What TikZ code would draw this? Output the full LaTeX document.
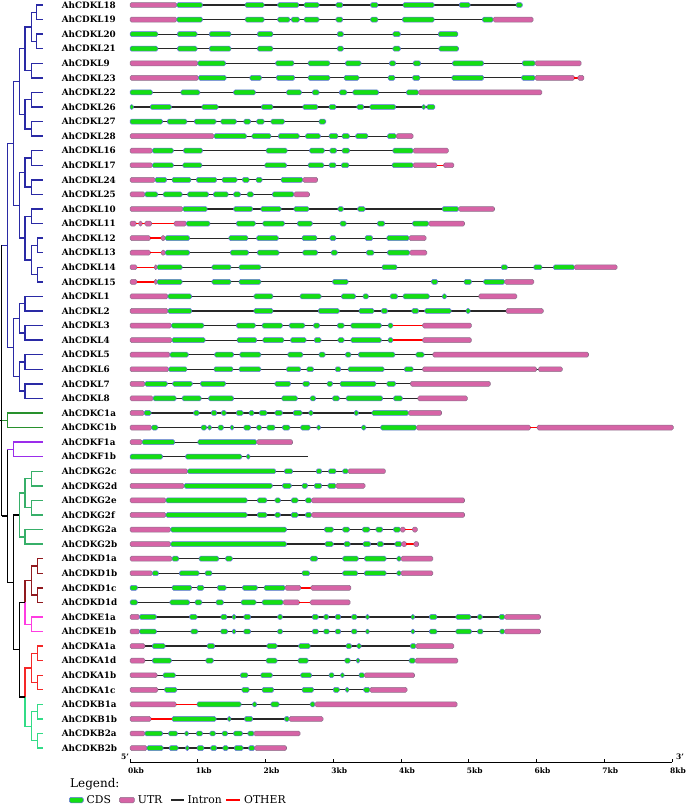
\documentclass[tikz,border=0pt]{standalone}
\usepackage{fontspec}
\setmainfont{DejaVu Serif}
\usetikzlibrary{positioning}

\definecolor{cdsfill}{RGB}{20,222,20}
\definecolor{cdsline}{RGB}{110,110,235}
\definecolor{utrfill}{RGB}{214,100,166}
\definecolor{utrline}{RGB}{140,115,140}
\definecolor{introncol}{RGB}{40,40,40}
\definecolor{cladeL}{RGB}{42,42,165}
\definecolor{cladeC}{RGB}{40,145,45}
\definecolor{cladeF}{RGB}{155,45,235}
\definecolor{cladeG}{RGB}{55,175,105}
\definecolor{cladeD}{RGB}{145,25,30}
\definecolor{cladeE}{RGB}{255,60,225}
\definecolor{cladeA}{RGB}{245,40,40}
\definecolor{cladeB}{RGB}{50,220,135}

\tikzset{
  branch/.style={line width=1.4pt},
  gname/.style={anchor=west, inner sep=0pt, font=\fontsize{8.8}{9}\selectfont\bfseries},
  intron/.style={draw=introncol, line width=1.2pt},
  cds/.style={draw=cdsline, fill=cdsfill, line width=0.5pt, rounded corners=1.5pt},
  utr/.style={draw=utrline, fill=utrfill, line width=0.5pt, rounded corners=1.5pt},
  oth/.style={fill=red, yscale=0.3},
  kblabel/.style={anchor=west, inner sep=0pt, font=\fontsize{7.5}{8}\selectfont\bfseries},
  key/.style={inner sep=0pt, font=\fontsize{10.8}{12}\selectfont},
}

% one gene model: row, length (kb), parts type/from/to
\newcommand{\gene}[3]{%
  \begin{scope}[shift={(0,#1)}]
    \draw[intron] (0,0) -- (#2,0);
    \foreach \kind/\from/\to in {#3} {\path[\kind] (\from,-0.17) rectangle (\to,0.17);}
  \end{scope}}

\begin{document}
\begin{tikzpicture}[x=1pt,y=-1pt]
\useasboundingbox (0,0) rectangle (685,805);

\begin{scope}[yshift=-5pt,y=-14.57pt]
  % leaves and names
  \foreach \n/\r in {L18/0,L19/1,L20/2,L21/3,L9/4,L23/5,L22/6,L26/7,L27/8,L28/9,
      L16/10,L17/11,L24/12,L25/13,L10/14,L11/15,L12/16,L13/17,L14/18,L15/19,
      L1/20,L2/21,L3/22,L4/23,L5/24,L6/25,L7/26,L8/27,C1a/28,C1b/29,F1a/30,F1b/31,
      G2c/32,G2d/33,G2e/34,G2f/35,G2a/36,G2b/37,D1a/38,D1b/39,D1c/40,D1d/41,
      E1a/42,E1b/43,A1a/44,A1d/45,A1b/46,A1c/47,B1a/48,B1b/49,B2a/50,B2b/51} {
    \coordinate (t\n) at (43.3,\r);
    \node[gname] (l\n) at (61.7,\r) {AhCDK\n};
  }

  % inner nodes of the tree
  \foreach \n/\x/\y in {a1/36.7/0.5,a2/36.7/2.5,a3/31.7/1.5,a4/31.7/4.5,a5/25/3,
      a6/31.7/6.5,a7/31.7/8.5,a8/25/7.5,a9/19.3/5.25,b1/31.7/10.5,b2/31.7/12.5,
      b3/25/11.5,b4/31.7/14.5,b5/37.3/16.5,b6/37.3/18.5,b7/31.7/17.5,b8/25/16,
      b9/19.3/13.75,c1/13.3/9.5,d1/25/20.5,d2/25/22.5,d3/19.3/21.5,d4/25/24.5,
      d5/25/26.5,d6/19.3/25.5,d7/13.3/23.5,kL/7.3/16.5,kC/7.3/28.5,kF/13.3/30.5,
      g1/31.7/32.5,g2/31.7/34.5,g3/25/33.5,kG/25/36.5,g4/19.3/35,
      e1/37.3/38.5,e2/37.3/40.5,kD/31.7/39.5,kE/31.7/42.5,m1/25/41,
      f1/37.3/44.5,f2/37.3/46.5,kA/31.7/45.5,h1/37.3/48.5,h2/37.3/50.5,kB/31.7/49.5,
      m2/25/47.5,m3/19.3/44.25,m4/13.3/39.625,m5/7.3/35.0625}
    \coordinate (\n) at (\x,\y);
  \coordinate (root) at (1.7,28.5);
  \coordinate (stub) at (0,28.5);

  % branches
  \foreach \p/\c in {a1/tL18,a1/tL19,a2/tL20,a2/tL21,a3/a1,a3/a2,a4/tL9,a4/tL23,
      a5/a3,a5/a4,a6/tL22,a6/tL26,a7/tL27,a7/tL28,a8/a6,a8/a7,a9/a5,a9/a8,
      b1/tL16,b1/tL17,b2/tL24,b2/tL25,b3/b1,b3/b2,b4/tL10,b4/tL11,b5/tL12,b5/tL13,
      b6/tL14,b6/tL15,b7/b5,b7/b6,b8/b4,b8/b7,b9/b3,b9/b8,c1/a9,c1/b9,
      d1/tL1,d1/tL2,d2/tL3,d2/tL4,d3/d1,d3/d2,d4/tL5,d4/tL6,d5/tL7,d5/tL8,
      d6/d4,d6/d5,d7/d3,d7/d6,kL/c1,kL/d7}
    \draw[branch,cladeL] (\p) |- (\c);
  \foreach \p/\c in {kC/tC1a,kC/tC1b} \draw[branch,cladeC] (\p) |- (\c);
  \foreach \p/\c in {kF/tF1a,kF/tF1b} \draw[branch,cladeF] (\p) |- (\c);
  \foreach \p/\c in {g1/tG2c,g1/tG2d,g2/tG2e,g2/tG2f,g3/g1,g3/g2,kG/tG2a,kG/tG2b,g4/g3,g4/kG}
    \draw[branch,cladeG] (\p) |- (\c);
  \foreach \p/\c in {e1/tD1a,e1/tD1b,e2/tD1c,e2/tD1d,kD/e1,kD/e2,m1/kD}
    \draw[branch,cladeD] (\p) |- (\c);
  \foreach \p/\c in {kE/tE1a,kE/tE1b,m1/kE} \draw[branch,cladeE] (\p) |- (\c);
  \foreach \p/\c in {f1/tA1a,f1/tA1d,f2/tA1b,f2/tA1c,kA/f1,kA/f2,m2/kA}
    \draw[branch,cladeA] (\p) |- (\c);
  \foreach \p/\c in {h1/tB1a,h1/tB1b,h2/tB2a,h2/tB2b,kB/h1,kB/h2,m2/kB}
    \draw[branch,cladeB] (\p) |- (\c);
  \foreach \p/\c in {m3/m1,m3/m2,m4/g4,m4/m3,m5/m4,m5/kF}
    \draw[branch] (\p) |- (\c);
  \draw[branch,cladeF] (m5 |- kF) -- (kF);
  \draw[branch] (root |- kL) -- (root |- m5);
  \draw[branch] (stub) -- (root);
  \draw[branch,cladeL] (root |- kL) -- (kL);
  \draw[branch,cladeC] (root) -- (kC);
  \draw[branch] (root |- m5) -- (m5);

  % gene models, x in kb
  \begin{scope}[xshift=130pt,x=67.75pt]
    \gene{0}{5.79}{utr/0/0.69,cds/0.69/1.07,cds/1.70/1.98,cds/2.18/2.49,cds/2.57/2.79,cds/3.04/3.14,cds/3.55/3.66,cds/4.03/4.49,cds/4.86/5.02,cds/5.70/5.79}
    \gene{1}{5.95}{utr/0/0.69,cds/0.69/1.07,cds/1.70/1.98,cds/2.18/2.36,cds/2.38/2.50,cds/2.57/2.79,cds/3.04/3.14,cds/3.55/3.66,cds/4.02/4.49,cds/5.20/5.36,utr/5.36/5.95}
    \gene{2}{4.84}{cds/0/0.41,cds/0.70/0.99,cds/1.17/1.49,cds/1.88/2.11,cds/3.06/3.15,cds/3.88/3.99,cds/4.55/4.84}
    \gene{3}{4.85}{cds/0/0.41,cds/0.70/0.99,cds/1.17/1.49,cds/1.88/2.11,cds/3.06/3.15,cds/3.88/3.99,cds/4.56/4.85}
    \gene{4}{6.66}{utr/0/1.00,cds/1.00/1.41,cds/2.15/2.42,cds/2.63/2.95,cds/3.18/3.41,cds/3.83/3.92,cds/4.18/4.29,cds/4.76/5.22,cds/5.79/5.98,utr/5.98/6.66}
    \gene{5}{6.70}{utr/0/1.01,cds/1.01/1.42,cds/1.77/1.94,cds/2.16/2.43,cds/2.63/2.95,cds/3.16/3.38,cds/3.81/3.91,cds/4.17/4.28,cds/4.75/5.22,cds/5.78/5.98,utr/5.98/6.56,oth/6.56/6.61,utr/6.61/6.70}
    \gene{6}{6.08}{cds/0/0.33,cds/0.75/1.03,cds/1.53/1.85,cds/2.31/2.53,cds/2.69/2.79,cds/3.09/3.20,cds/3.29/3.67,cds/4.08/4.26,utr/4.26/6.08}
    \gene{7}{4.50}{cds/0/0.05,cds/0.30/0.61,cds/1.06/1.30,cds/1.94/2.11,cds/2.55/2.77,cds/2.94/3.04,cds/3.35/3.45,cds/3.54/3.92,cds/4.31/4.36,cds/4.38/4.50}
    \gene{8}{2.89}{cds/0/0.48,cds/0.55/0.84,cds/0.95/1.27,cds/1.34/1.57,cds/1.68/1.78,cds/1.87/1.98,cds/2.08/2.28,cds/2.79/2.89}
    \gene{9}{4.18}{utr/0/1.24,cds/1.24/1.72,cds/1.80/2.08,cds/2.19/2.50,cds/2.59/2.81,cds/2.94/3.07,cds/3.13/3.24,cds/3.33/3.51,cds/3.80/3.93,utr/3.93/4.18}
    \gene{10}{4.70}{utr/0/0.33,cds/0.33/0.64,cds/0.79/1.07,cds/2.01/2.32,cds/2.65/2.87,cds/2.95/3.05,cds/3.13/3.24,cds/3.88/4.18,utr/4.18/4.70}
    \gene{11}{4.78}{utr/0/0.33,cds/0.33/0.64,cds/0.78/1.06,cds/1.99/2.31,cds/2.63/2.86,cds/2.94/3.04,cds/3.12/3.23,cds/3.87/4.18,utr/4.18/4.53,oth/4.53/4.63,utr/4.63/4.78}
    \gene{12}{2.77}{utr/0/0.37,cds/0.37/0.54,cds/0.62/0.90,cds/0.98/1.28,cds/1.36/1.58,cds/1.66/1.76,cds/1.86/1.95,cds/2.23/2.55,utr/2.55/2.77}
    \gene{13}{2.65}{utr/0/0.22,cds/0.22/0.41,cds/0.49/0.77,cds/0.85/1.16,cds/1.23/1.45,cds/1.53/1.63,cds/1.73/1.82,cds/2.10/2.42,utr/2.42/2.65}
    \gene{14}{5.38}{utr/0/0.78,cds/0.78/1.14,cds/1.53/1.81,cds/1.93/2.23,cds/2.42/2.64,cds/3.07/3.15,cds/3.36/3.47,cds/4.61/4.85,utr/4.85/5.38}
    \gene{15}{4.94}{utr/0/0.09,oth/0.09/0.13,utr/0.13/0.18,oth/0.18/0.22,utr/0.22/0.32,oth/0.32/0.65,utr/0.65/0.83,cds/0.83/1.18,cds/1.57/1.85,cds/1.96/2.28,cds/2.47/2.69,cds/3.10/3.19,cds/3.65/3.76,cds/4.17/4.41,utr/4.41/4.94}
    \gene{16}{4.37}{utr/0/0.30,oth/0.30/0.46,utr/0.46/0.52,cds/0.52/0.88,cds/1.46/1.74,cds/1.87/2.19,cds/2.54/2.76,cds/2.95/3.04,cds/3.47/3.58,cds/3.79/4.12,utr/4.12/4.37}
    \gene{17}{4.38}{utr/0/0.30,oth/0.30/0.46,utr/0.46/0.52,cds/0.52/0.88,cds/1.48/1.75,cds/1.88/2.20,cds/2.55/2.77,cds/2.97/3.06,cds/3.49/3.60,cds/3.80/4.13,utr/4.13/4.38}
    \gene{18}{7.19}{utr/0/0.10,oth/0.10/0.36,utr/0.36/0.40,cds/0.40/0.77,cds/1.21/1.49,cds/1.61/1.93,cds/3.72/3.94,cds/5.48/5.57,cds/5.96/6.08,cds/6.25/6.56,utr/6.56/7.19}
    \gene{19}{5.96}{utr/0/0.10,oth/0.10/0.36,utr/0.36/0.40,cds/0.40/0.77,cds/1.21/1.49,cds/1.61/1.93,cds/2.99/3.22,cds/4.45/4.54,cds/4.93/5.04,cds/5.22/5.53,utr/5.53/5.96}
    \gene{20}{5.71}{utr/0/0.56,cds/0.56/0.91,cds/1.83/2.11,cds/2.51/2.82,cds/3.12/3.33,cds/3.44/3.52,cds/3.84/3.95,cds/4.03/4.42,cds/4.61/4.67,utr/5.15/5.71}
    \gene{21}{6.10}{utr/0/0.56,cds/0.56/0.91,cds/1.83/2.11,cds/2.78/3.09,cds/3.38/3.60,cds/3.71/3.80,cds/4.16/4.26,cds/4.35/4.74,cds/4.96/5.02,utr/5.55/6.10}
    \gene{22}{5.04}{utr/0/0.61,cds/0.61/1.09,cds/1.57/1.85,cds/1.95/2.25,cds/2.35/2.58,cds/2.71/2.80,cds/3.06/3.16,cds/3.26/3.71,cds/3.81/3.88,oth/3.88/4.32,utr/4.32/5.04}
    \gene{23}{5.04}{utr/0/0.62,cds/0.62/1.11,cds/1.58/1.87,cds/1.96/2.27,cds/2.37/2.60,cds/2.72/2.82,cds/3.07/3.16,cds/3.26/3.71,cds/3.81/3.88,oth/3.88/4.32,utr/4.32/5.04}
    \gene{24}{6.77}{utr/0/0.59,cds/0.59/0.86,cds/1.25/1.53,cds/1.62/1.93,cds/2.33/2.55,cds/2.79/2.88,cds/3.18/3.26,cds/3.37/3.91,cds/4.22/4.34,utr/4.47/6.77}
    \gene{25}{6.38}{utr/0/0.57,cds/0.57/0.84,cds/1.24/1.52,cds/1.61/1.93,cds/2.31/2.52,cds/2.61/2.71,cds/3.03/3.11,cds/3.22/3.75,cds/4.05/4.18,utr/4.32/6.00,utr/6.03/6.38}
    \gene{26}{5.32}{utr/0/0.22,cds/0.22/0.55,cds/0.63/0.92,cds/1.04/1.41,cds/2.14/2.37,cds/2.55/2.65,cds/2.91/2.99,cds/3.10/3.63,cds/3.79/3.92,utr/4.14/5.32}
    \gene{27}{4.98}{utr/0/0.34,cds/0.34/0.68,cds/0.77/1.05,cds/1.16/1.53,cds/2.24/2.47,cds/2.66/2.74,cds/2.99/3.09,cds/3.19/3.73,cds/3.89/4.02,utr/4.25/4.98}
    \gene{28}{4.60}{utr/0/0.21,cds/0.21/0.31,cds/0.94/1.02,cds/1.20/1.28,cds/1.35/1.42,cds/1.57/1.67,cds/1.76/1.83,cds/1.91/2.02,cds/2.14/2.25,cds/2.41/2.54,cds/2.64/2.70,cds/3.31/3.37,cds/3.57/4.11,utr/4.11/4.60}
    \gene{29}{8.02}{utr/0/0.32,cds/0.32/0.41,cds/1.05/1.13,cds/1.15/1.20,cds/1.30/1.38,cds/1.48/1.53,cds/1.68/1.78,cds/1.87/1.94,cds/2.02/2.14,cds/2.25/2.36,cds/2.52/2.66,cds/2.76/2.81,cds/3.42/3.48,cds/3.70/4.23,utr/4.23/5.91,oth/5.91/6.01,utr/6.01/8.02}
    \gene{30}{2.40}{utr/0/0.18,cds/0.18/0.66,cds/1.00/1.87,utr/1.87/2.40}
    \gene{31}{2.62}{cds/0/0.48,cds/0.82/1.65,cds/1.72/1.77}
    \gene{32}{3.77}{utr/0/0.85,cds/0.85/2.15,cds/2.28/2.40,cds/2.75/2.83,cds/2.93/3.04,cds/3.14/3.22,utr/3.22/3.77}
    \gene{33}{3.47}{utr/0/0.80,cds/0.80/2.10,cds/2.25/2.38,cds/2.54/2.62,cds/2.72/2.83,cds/2.92/3.04,utr/3.04/3.47}
    \gene{34}{4.94}{utr/0/0.53,cds/0.53/1.73,cds/1.88/2.02,cds/2.14/2.22,cds/2.38/2.48,cds/2.59/2.68,utr/2.68/4.94}
    \gene{35}{4.94}{utr/0/0.53,cds/0.53/1.73,cds/1.88/2.02,cds/2.14/2.22,cds/2.38/2.48,cds/2.59/2.68,utr/2.68/4.94}
    \gene{36}{4.24}{utr/0/0.60,cds/0.60/2.31,cds/2.87/3.00,cds/3.14/3.24,cds/3.43/3.54,cds/3.63/3.73,cds/3.89/3.99,utr/3.99/4.06,oth/4.06/4.17,utr/4.17/4.24}
    \gene{37}{4.26}{utr/0/0.60,cds/0.60/2.31,cds/2.88/3.00,cds/3.16/3.25,cds/3.44/3.55,cds/3.65/3.74,cds/3.91/4.01,utr/4.01/4.08,oth/4.08/4.19,utr/4.19/4.26}
    \gene{38}{4.47}{utr/0/0.62,cds/0.62/0.72,cds/1.02/1.31,cds/1.41/1.51,cds/2.66/2.77,cds/3.14/3.37,cds/3.46/3.78,cds/3.94/4.00,utr/4.00/4.47}
    \gene{39}{4.47}{utr/0/0.33,cds/0.33/0.42,cds/0.73/1.02,cds/1.11/1.21,cds/2.54/2.65,cds/3.14/3.36,cds/3.46/3.78,cds/3.94/4.00,utr/4.00/4.47}
    \gene{40}{3.26}{cds/0/0.11,cds/0.62/0.91,cds/0.99/1.09,cds/1.29/1.42,cds/1.66/1.88,cds/1.98/2.29,utr/2.29/2.52,oth/2.52/2.67,utr/2.67/3.26}
    \gene{41}{3.25}{cds/0/0.11,cds/0.59/0.88,cds/0.96/1.06,cds/1.27/1.38,cds/1.64/1.86,cds/1.95/2.26,utr/2.26/2.50,oth/2.50/2.66,utr/2.66/3.25}
    \gene{42}{6.06}{utr/0/0.14,cds/0.14/0.39,cds/0.88/0.99,cds/1.34/1.43,cds/1.51/1.56,cds/1.68/1.78,cds/2.18/2.25,cds/2.69/2.78,cds/2.86/2.93,cds/3.03/3.11,cds/3.27/3.35,cds/3.48/3.53,cds/4.15/4.20,cds/4.42/4.53,cds/4.81/5.03,cds/5.13/5.20,cds/5.45/5.53,utr/5.53/6.06}
    \gene{43}{6.06}{utr/0/0.14,cds/0.14/0.39,cds/0.90/1.00,cds/1.34/1.44,cds/1.51/1.56,cds/1.68/1.78,cds/2.18/2.25,cds/2.69/2.78,cds/2.86/2.94,cds/3.03/3.11,cds/3.27/3.35,cds/3.48/3.53,cds/4.15/4.20,cds/4.42/4.53,cds/4.81/5.04,cds/5.13/5.21,cds/5.46/5.53,utr/5.53/6.06}
    \gene{44}{4.78}{utr/0/0.22,cds/0.33/0.52,cds/1.14/1.25,cds/2.02/2.17,cds/2.49/2.66,cds/3.19/3.27,cds/3.35/3.41,cds/4.14/4.22,utr/4.22/4.78}
    \gene{45}{4.84}{utr/0/0.22,cds/0.33/0.61,cds/1.12/1.23,cds/2.01/2.17,cds/2.48/2.63,cds/3.17/3.25,cds/3.34/3.39,cds/4.12/4.21,utr/4.21/4.84}
    \gene{46}{4.20}{utr/0/0.40,cds/0.49/0.67,cds/1.63/1.74,cds/1.93/2.10,cds/2.52/2.68,cds/2.94/3.01,cds/3.11/3.16,cds/3.38/3.46,utr/3.46/4.20}
    \gene{47}{4.09}{utr/0/0.41,cds/0.51/0.69,cds/1.65/1.76,cds/1.95/2.12,cds/2.54/2.71,cds/3.00/3.09,cds/3.18/3.23,cds/3.45/3.54,utr/3.54/4.09}
    \gene{48}{4.83}{utr/0/0.68,oth/0.68/0.99,cds/0.99/1.64,cds/1.81/1.87,cds/2.08/2.20,cds/2.66/2.73,utr/2.73/4.83}
    \gene{49}{2.85}{utr/0/0.31,oth/0.31/0.62,cds/0.62/1.27,cds/1.44/1.49,cds/1.69/1.81,cds/2.28/2.35,utr/2.35/2.85}
    \gene{50}{2.51}{utr/0/0.22,cds/0.22/0.48,cds/0.57/0.70,cds/0.81/0.86,cds/0.98/1.07,cds/1.18/1.26,cds/1.36/1.44,cds/1.53/1.66,cds/1.74/1.83,utr/1.83/2.51}
    \gene{51}{2.31}{utr/0/0.25,cds/0.25/0.49,cds/0.58/0.71,cds/0.82/0.87,cds/0.99/1.09,cds/1.19/1.28,cds/1.37/1.45,cds/1.54/1.67,cds/1.75/1.84,utr/1.84/2.31}
  \end{scope}
\end{scope}

% scale bar
\begin{scope}[xshift=130pt,x=67.75pt]
  \draw[line width=0.9pt] (0,762) -- (8,762);
  \foreach \k in {0,...,8} {
    \draw[line width=0.6pt] (\k,762) -- (\k,759);
    \node[kblabel,xshift=-2pt] (kb\k) at (\k,771) {\k kb};
  }
\end{scope}
\node[font=\fontsize{7.5}{8}\selectfont\bfseries] (five) at (125,757) {5'};
\node[font=\fontsize{7.5}{8}\selectfont\bfseries] (three) at (680,757) {3'};

% legend
\node[key,anchor=west,font=\fontsize{12}{13}\selectfont] (legend) at (70,784) {Legend:};
\node[cds,minimum width=14pt,minimum height=5.5pt,inner sep=0pt,anchor=west] (icds) at (69,800) {};
\node[key,right=3pt of icds] (tcds) {CDS};
\node[utr,minimum width=15pt,minimum height=5.5pt,inner sep=0pt,right=8pt of tcds] (iutr) {};
\node[key,right=3pt of iutr] (tutr) {UTR};
\node[fill=introncol,minimum width=13pt,minimum height=1.4pt,inner sep=0pt,right=8pt of tutr] (iint) {};
\node[key,right=3.5pt of iint] (tint) {Intron};
\node[fill=red,minimum width=14pt,minimum height=1.4pt,inner sep=0pt,right=4pt of tint] (ioth) {};
\node[key,right=3.5pt of ioth] (toth) {OTHER};
\end{tikzpicture}
\end{document}
